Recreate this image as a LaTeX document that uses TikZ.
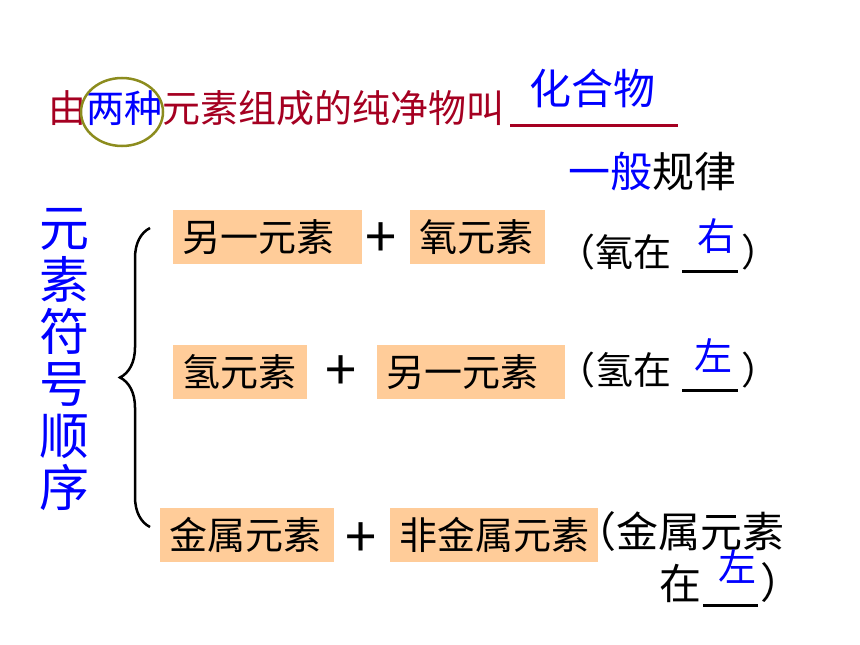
\documentclass[tikz,border=0pt]{standalone}
\usepackage{fontspec}
\setmainfont{Noto Sans CJK SC}
\usetikzlibrary{positioning,decorations.pathreplacing}
\definecolor{titlered}{RGB}{165,0,33}
\definecolor{keyblue}{RGB}{0,0,255}
\definecolor{ringolive}{RGB}{140,140,30}
\definecolor{boxfill}{RGB}{255,204,153}

\begin{document}
\begin{tikzpicture}[x=1pt,y=-1pt]
  \tikzstyle{elem}=[fill=boxfill,anchor=west,minimum height=54pt,inner xsep=9pt,
                    inner ysep=0pt,align=left,font=\fontsize{38}{40}\selectfont]
  \tikzstyle{plus}=[inner sep=0pt,font=\fontsize{56}{56}\selectfont]
  \tikzstyle{note}=[anchor=west,inner sep=0pt,font=\fontsize{38}{46}\selectfont]
  \tikzstyle{answer}=[text=keyblue,inner sep=0pt,font=\fontsize{38}{38}\selectfont]
  \tikzstyle{blank}=[line width=3pt]

  \useasboundingbox (0,0) rectangle (860,645);

  % definition line
  \node[note,text=titlered] (title) at (48,108)
    {由\textcolor{keyblue}{两种}元素组成的纯净物叫};
  \coordinate (title-l) at (510,125);
  \coordinate (title-r) at (678,125);
  \draw[blank,titlered] (title-l) -- (title-r);
  \node[answer,font=\fontsize{42}{42}\selectfont] (compound) at (592,88) {化合物};
  \coordinate (ring) at (122,112);
  \draw[ringolive,line width=2.5pt] (ring) ellipse [x radius=41,y radius=34];

  \node[note,font=\fontsize{42}{42}\selectfont] (rule) at (568,172)
    {\textcolor{keyblue}{一般}规律};

  % left side
  \node[text=keyblue,align=center,inner sep=0pt,
        font=\fontsize{50}{52}\selectfont] (order) at (64,360) {元\\素\\符\\号\\顺\\序};
  \coordinate (brace-b) at (150,527);
  \coordinate (brace-t) at (150,228);
  \draw[line width=2.5pt,decorate,decoration={brace,amplitude=30pt}] (brace-b) -- (brace-t);

  % the three cases
  \foreach \name/\x/\y/\w/\text in {a1/173/237/171/另一元素, a2/410/237/117/氧元素,
                                   b1/173/372/116/氢元素, b2/377/372/170/另一元素,
                                   c1/160/535/156/金属元素, c2/390/535/190/非金属元素}
    \node[elem,text width=\w pt] (\name) at (\x,\y) {\text};

  \foreach \name/\x/\y in {a/381/240, b/341/373, c/361/540}
    \node[plus] (plus-\name) at (\x,\y) {+};

  \node[note] (note-a) at (557,252) {（氧在};
  \node[note] (close-a) at (741,252) {）};
  \coordinate (gap-a-l) at (682,271);
  \coordinate (gap-a-r) at (738,271);
  \draw[blank] (gap-a-l) -- (gap-a-r);
  \node[answer] (ans-a) at (716,236) {右};

  \node[note] (note-b) at (557,370) {（氢在};
  \node[note] (close-b) at (741,370) {）};
  \coordinate (gap-b-l) at (682,390);
  \coordinate (gap-b-r) at (738,390);
  \draw[blank] (gap-b-l) -- (gap-b-r);
  \node[answer] (ans-b) at (713,356) {左};

  \tikzstyle{note3}=[note,font=\fontsize{42}{46}\selectfont]
  \node[note3] (note-c) at (574,532) {（金属元素};
  \node[note3] (note-c2) at (659,583) {在};
  \node[note3] (close-c) at (760,583) {）};
  \coordinate (gap-c-l) at (703,605);
  \coordinate (gap-c-r) at (758,605);
  \draw[blank] (gap-c-l) -- (gap-c-r);
  \node[answer] (ans-c) at (737,567) {左};
\end{tikzpicture}
\end{document}
